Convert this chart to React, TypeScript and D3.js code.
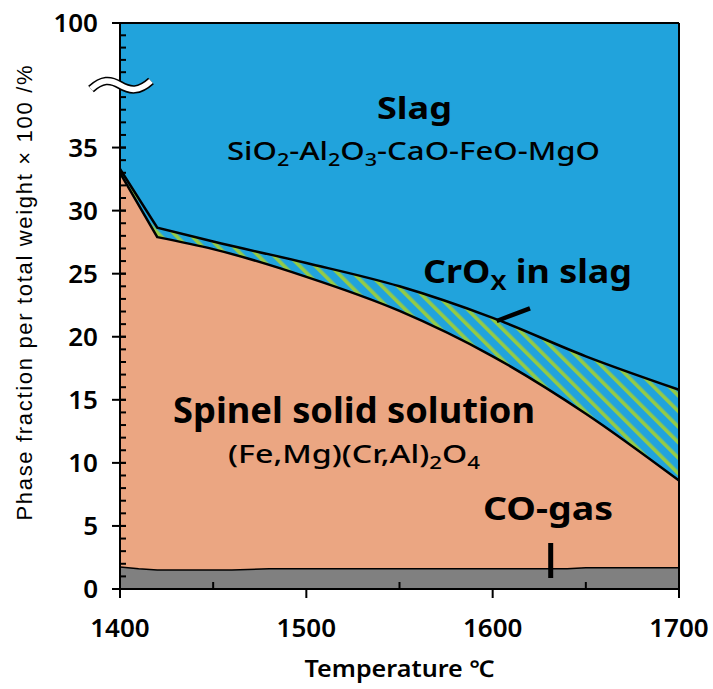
import React from 'react';
import * as d3 from 'd3';

// temperatures (°C) where the phase boundaries were read
const temps = [1400, 1420, 1450, 1500, 1550, 1600, 1650, 1700];
// upper edge of spinel solid solution (%)
const spinelTop = [33.0, 27.9, 26.95, 24.75, 22.05, 18.45, 13.9, 8.6];
// upper edge of CrOx-in-slag band, i.e. lower edge of slag (%)
const slagBottom = [33.3, 28.65, 27.55, 25.85, 24.0, 21.5, 18.45, 15.8];
// CO-gas layer
const coTemps = [1400, 1410, 1420, 1460, 1480, 1640, 1650, 1700];
const coTop = [1.75, 1.6, 1.5, 1.5, 1.6, 1.6, 1.68, 1.68];

const xTicks = [1400, 1500, 1600, 1700];
const xMinor = [1450, 1550, 1650];
const yTicks = [0, 5, 10, 15, 20, 25, 30, 35, 100];
const yMinor = [...d3.range(1, 40), 96, 97, 98, 99];

const W = 713;
const H = 689;
const left = 120;
const right = 679;
const bottom = 589;
const top = 23;

const blue = '#21a3dc';
const salmon = '#eba682';
const green = '#94cb45';
const gray = '#808080';
const font = '"Noto Sans", "DejaVu Sans", sans-serif';

const x = d3.scaleLinear().domain([1400, 1700]).range([left, right]);
// broken axis: 0–40 then 95–100
const y = d3.scaleLinear().domain([0, 40, 95, 100]).range([bottom, 84.5, 84.5, top]);

const mono = d3
  .line<[number, number]>()
  .x((d) => x(d[0]))
  .y((d) => y(d[1]))
  .curve(d3.curveMonotoneX);
const lin = d3
  .line<[number, number]>()
  .x((d) => x(d[0]))
  .y((d) => y(d[1]));

// straight from 1400 to 1420, smooth afterwards
const edge = (vals: number[]) => {
  const pts = temps.map((t, i) => [t, vals[i]] as [number, number]);
  return `M${x(pts[0][0])},${y(pts[0][1])}` + (mono(pts.slice(1)) || '').replace(/^M/, 'L');
};
const closeDown = `L${x(1700)},${y(0)}L${x(1400)},${y(0)}Z`;
const coLine = lin(coTemps.map((t, i) => [t, coTop[i]] as [number, number])) || '';

const App = () => {
  return (
    <svg width={W} height={H} style={{ position: 'absolute', left: 0, top: 0, background: '#fff' }}>
      <defs>
        <pattern id="hatch" patternUnits="userSpaceOnUse" width={11} height={11} patternTransform="rotate(-45)">
          <rect width={11} height={11} fill={blue} />
          <rect width={3.6} height={11} fill={green} />
        </pattern>
      </defs>

      {/* slag */}
      <rect x={left} y={top} width={right - left} height={bottom - top} fill={blue} />
      {/* CrOx band */}
      <path d={edge(slagBottom) + closeDown} fill="url(#hatch)" />
      {/* spinel */}
      <path d={edge(spinelTop) + closeDown} fill={salmon} />
      {/* CO gas */}
      <path d={coLine + closeDown} fill={gray} />

      <path d={edge(slagBottom)} fill="none" stroke="#000" strokeWidth={2.5} />
      <path d={edge(spinelTop)} fill="none" stroke="#000" strokeWidth={2.5} />
      <path d={coLine} fill="none" stroke="#000" strokeWidth={1.5} />

      {/* frame */}
      <line x1={left - 8} x2={right} y1={top} y2={top} stroke="#000" strokeWidth={2} />
      <line x1={right} x2={right} y1={top} y2={bottom + 9} stroke="#000" strokeWidth={2} />
      <line x1={left} x2={right} y1={bottom} y2={bottom} stroke="#000" strokeWidth={2} />
      <line x1={left} x2={left} y1={top} y2={bottom + 9} stroke="#000" strokeWidth={2} />

      {/* y ticks */}
      {yMinor.map((v) => (
        <line key={'ym' + v} x1={left} x2={left + 6} y1={y(v)} y2={y(v)} stroke="#000" strokeWidth={2} />
      ))}
      {yTicks.map((v) => (
        <g key={'y' + v}>
          <line x1={left - 8} x2={left + 6} y1={y(v)} y2={y(v)} stroke="#000" strokeWidth={2} />
          <text
            x={left - 22}
            y={y(v)}
            dy="0.36em"
            textAnchor="end"
            fontFamily={font}
            fontWeight={600}
            fontSize={26}
          >
            {v}
          </text>
        </g>
      ))}

      {/* x ticks */}
      {xMinor.map((v) => (
        <line key={'xm' + v} x1={x(v)} x2={x(v)} y1={bottom} y2={bottom - 7} stroke="#000" strokeWidth={2} />
      ))}
      {xTicks.map((v) => (
        <g key={'x' + v}>
          <line x1={x(v)} x2={x(v)} y1={bottom} y2={bottom + 9} stroke="#000" strokeWidth={2} />
          <text x={x(v)} y={637} textAnchor="middle" fontFamily={font} fontWeight={600} fontSize={26}>
            {v}
          </text>
        </g>
      ))}

      {/* axis break */}
      <path d="M91,89 C102,79 110,79 120,85 S139,92 151,81" fill="none" stroke="#000" strokeWidth={8.5} />
      <path d="M91,89 C102,79 110,79 120,85 S139,92 151,81" fill="none" stroke="#fff" strokeWidth={5.5} />

      {/* axis titles */}
      <text
        x={x(1550)}
        y={677}
        textAnchor="middle"
        fontFamily={font}
        fontWeight={600}
        fontSize={23}
        textLength={190}
        lengthAdjust="spacingAndGlyphs"
      >
        Temperature ℃
      </text>
      <text
        transform="translate(32,293) rotate(-90)"
        textAnchor="middle"
        fontFamily='"Liberation Sans", Arial, sans-serif'
        fontSize={22}
        textLength={455}
        lengthAdjust="spacing"
      >
        Phase fraction per total weight × 100 /%
      </text>

      {/* region labels */}
      <text
        x={377}
        y={119}
        fontFamily={font}
        fontWeight={700}
        fontSize={31}
        textLength={75}
        lengthAdjust="spacingAndGlyphs"
      >
        Slag
      </text>
      <text
        x={227}
        y={160}
        fontFamily={font}
        fontWeight={500}
        fontSize={26}
        textLength={373}
        lengthAdjust="spacingAndGlyphs"
      >
        SiO<tspan fontSize={18} dy={6}>2</tspan>
        <tspan dy={-6}>-Al</tspan>
        <tspan fontSize={18} dy={6}>2</tspan>
        <tspan dy={-6}>O</tspan>
        <tspan fontSize={18} dy={6}>3</tspan>
        <tspan dy={-6}>-CaO-FeO-MgO</tspan>
      </text>
      <text
        x={423}
        y={283}
        fontFamily={font}
        fontWeight={700}
        fontSize={33}
        textLength={209}
        lengthAdjust="spacingAndGlyphs"
      >
        CrO<tspan fontSize={22} dy={7}>X</tspan>
        <tspan dy={-7}> in slag</tspan>
      </text>
      <line x1={496.7} y1={321} x2={530} y2={308.3} stroke="#000" strokeWidth={4.5} />

      <text
        x={173}
        y={423}
        fontFamily={font}
        fontWeight={700}
        fontSize={35}
        textLength={362}
        lengthAdjust="spacingAndGlyphs"
      >
        Spinel solid solution
      </text>
      <text
        x={228}
        y={463}
        fontFamily={font}
        fontWeight={500}
        fontSize={26}
        textLength={252}
        lengthAdjust="spacingAndGlyphs"
      >
        (Fe,Mg)(Cr,Al)<tspan fontSize={18} dy={6}>2</tspan>
        <tspan dy={-6}>O</tspan>
        <tspan fontSize={18} dy={6}>4</tspan>
      </text>

      <text
        x={483}
        y={520}
        fontFamily={font}
        fontWeight={700}
        fontSize={33}
        textLength={130}
        lengthAdjust="spacingAndGlyphs"
      >
        CO-gas
      </text>
      <line x1={550.7} y1={543} x2={550.7} y2={578} stroke="#000" strokeWidth={5} />
    </svg>
  );
};

export default App;
